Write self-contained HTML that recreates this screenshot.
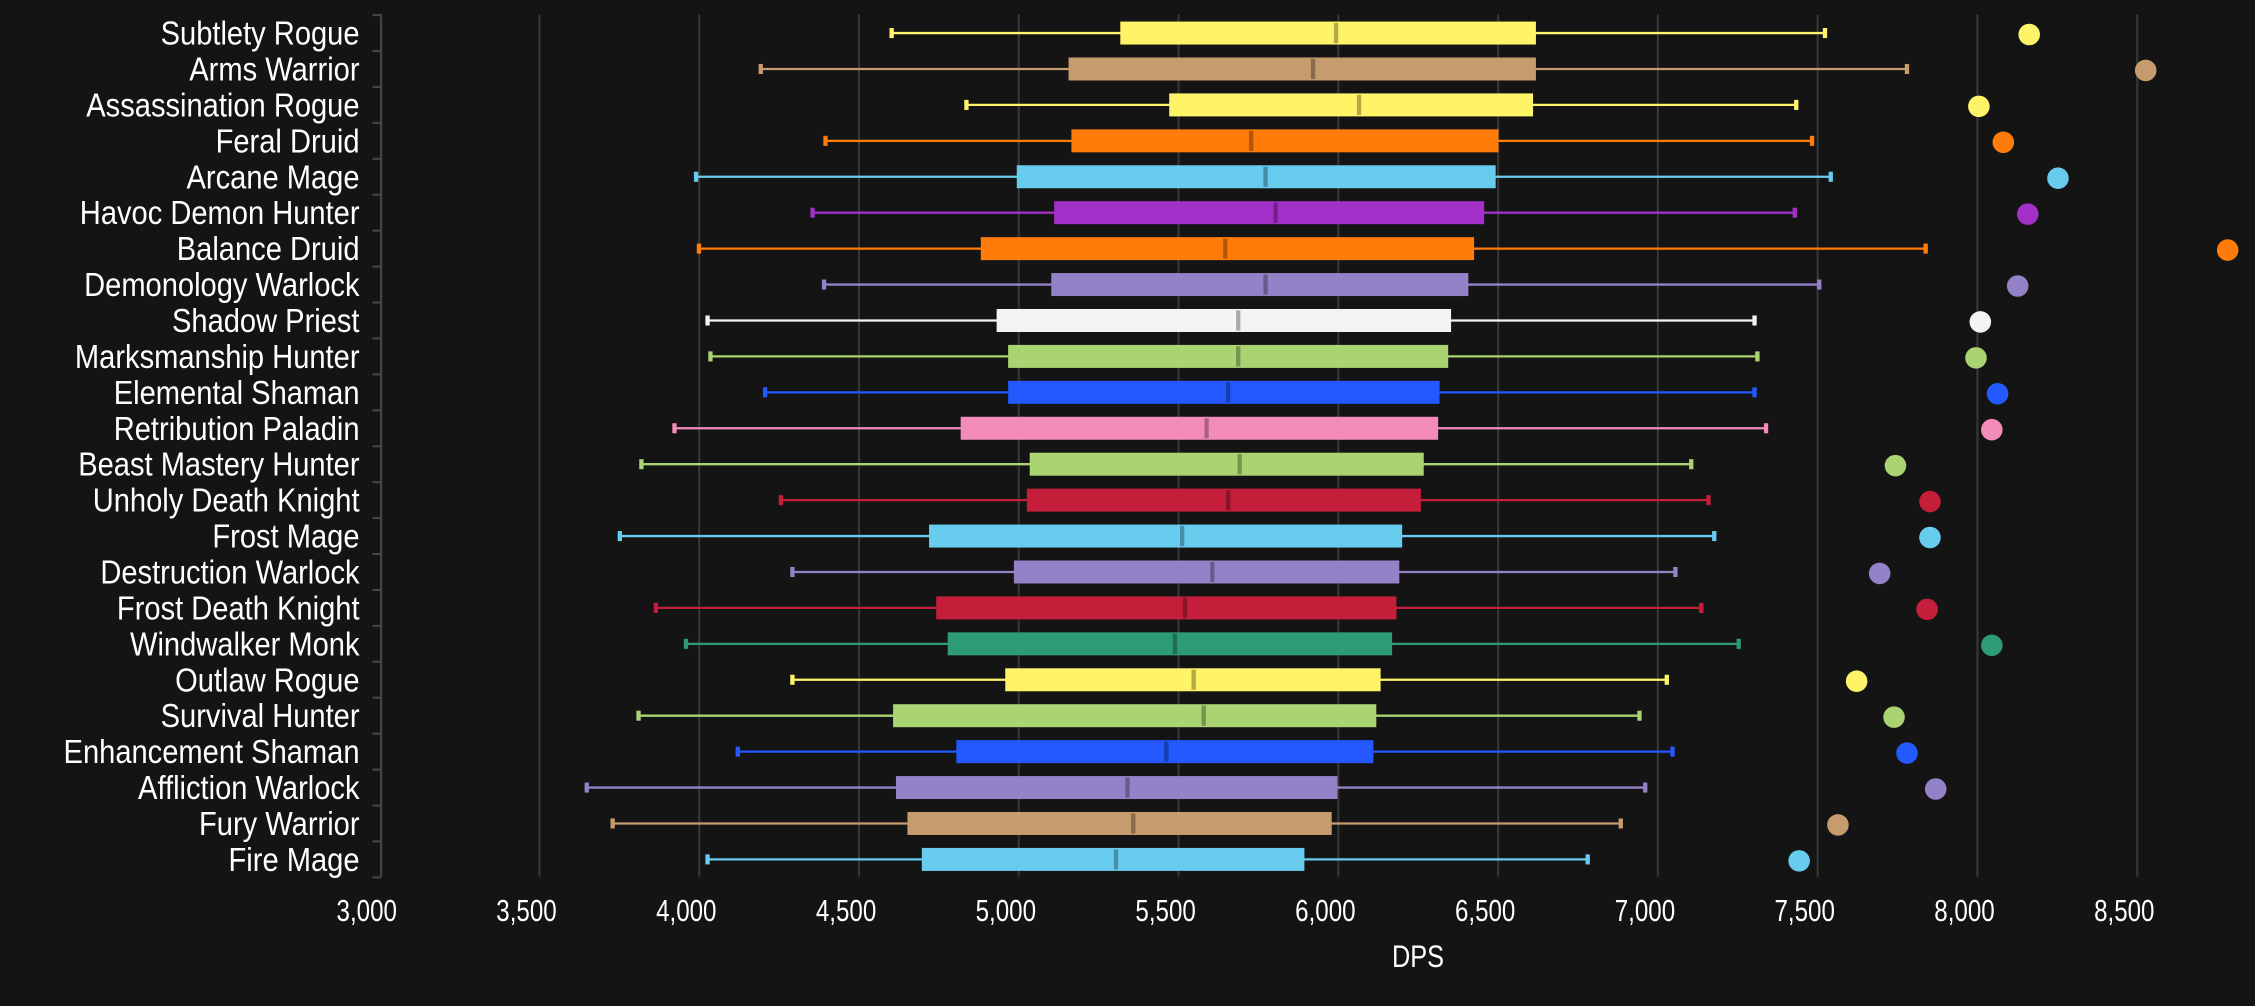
<!DOCTYPE html>
<html><head><meta charset="utf-8"><style>
html,body{margin:0;padding:0;background:#141414;}
svg{display:block;}
</style></head><body>
<svg id="c" width="2255" height="1006" viewBox="0 0 1568 700" preserveAspectRatio="none" xmlns="http://www.w3.org/2000/svg">
<rect width="1568" height="700" fill="#141414"/>
</svg>
<script>
const d=[
["Subtlety Rogue",620,779,929,1068,1269,1411,"#fff468"],
["Arms Warrior",529,743,913,1068,1326,1492,"#c69b6d"],
["Assassination Rogue",672,813,945,1066,1249,1376,"#fff468"],
["Feral Druid",574,745,870,1042,1260,1393,"#ff7c0a"],
["Arcane Mage",484,707,880,1040,1273,1431,"#68ccef"],
["Havoc Demon Hunter",565,733,887,1032,1248,1410,"#a330c9"],
["Balance Druid",486,682,852,1025,1339,1549,"#ff7c0a"],
["Demonology Warlock",573,731,880,1021,1265,1403,"#9482c9"],
["Shadow Priest",492,693,861,1009,1220,1377,"#f4f4f4"],
["Marksmanship Hunter",494,701,861,1007,1222,1374,"#aad372"],
["Elemental Shaman",532,701,854,1001,1220,1389,"#2359ff"],
["Retribution Paladin",469,668,839,1000,1228,1385,"#f48cba"],
["Beast Mastery Hunter",446,716,862,990,1176,1318,"#aad372"],
["Unholy Death Knight",543,714,854,988,1188,1342,"#c41e3a"],
["Frost Mage",431,646,822,975,1192,1342,"#68ccef"],
["Destruction Warlock",551,705,843,973,1165,1307,"#9482c9"],
["Frost Death Knight",456,651,824,971,1183,1340,"#c41e3a"],
["Windwalker Monk",477,659,817,968,1209,1385,"#2e9b78"],
["Outlaw Rogue",551,699,830,960,1159,1291,"#fff468"],
["Survival Hunter",444,621,837,957,1140,1317,"#aad372"],
["Enhancement Shaman",513,665,811,955,1163,1326,"#2359ff"],
["Affliction Warlock",408,623,784,930,1144,1346,"#9482c9"],
["Fury Warrior",426,631,788,926,1127,1278,"#c69b6d"],
["Fire Mage",492,641,776,907,1104,1251,"#68ccef"]];
let s='';
const F='font-family="Liberation Sans, DejaVu Sans, sans-serif"';
for(let k=1;k<=11;k++){const x=264+k*111.1;s+=`<line x1="${x}" y1="10" x2="${x}" y2="610" stroke="#363636" stroke-width="1.5"/>`;}
for(let k=0;k<=11;k++){const x=264+k*111.1;const v=(3000+k*500).toLocaleString('en-US');s+=`<text class="cd" x="${x-9}" y="641" fill="#fff" font-size="21" text-anchor="middle" ${F}>${v}</text>`;}
s+=`<text class="cd" x="986" y="673" fill="#fff" font-size="22" text-anchor="middle" ${F}>DPS</text>`;
s+=`<line x1="265" y1="10" x2="265" y2="610" stroke="#444" stroke-width="1.5"/>`;
for(let i=0;i<=24;i++){const y=10.5+i*25;s+=`<line x1="259" y1="${y}" x2="265" y2="${y}" stroke="#444" stroke-width="1.5"/>`;}
function dark(c){const n=parseInt(c.slice(1),16);const r=(n>>16)*0.7|0,g=((n>>8)&255)*0.7|0,b=(n&255)*0.7|0;return `rgb(${r},${g},${b})`;}
d.forEach((r,i)=>{const y=23+i*25;const [n,a,q1,m,q3,b,dot,c]=r;
s+=`<text class="lb" x="250" y="${y+8}" fill="#fff" font-size="23" text-anchor="end" ${F}>${n}</text>`;
s+=`<line x1="${a}" y1="${y}" x2="${b}" y2="${y}" stroke="${c}" stroke-width="1.6"/>`;
s+=`<line x1="${a}" y1="${y-3.5}" x2="${a}" y2="${y+3.5}" stroke="${c}" stroke-width="3"/>`;
s+=`<line x1="${b}" y1="${y-3.5}" x2="${b}" y2="${y+3.5}" stroke="${c}" stroke-width="3"/>`;
s+=`<rect x="${q1}" y="${y-8}" width="${q3-q1}" height="16" fill="${c}"/>`;
s+=`<line x1="${m}" y1="${y-7}" x2="${m}" y2="${y+7}" stroke="${dark(c)}" stroke-width="3"/>`;
s+=`<circle cx="${dot}" cy="${y+1}" r="7.5" fill="${c}"/>`;});
document.getElementById('c').insertAdjacentHTML('beforeend',s);
document.querySelectorAll('text.cd').forEach(t=>{const w=t.getComputedTextLength();t.setAttribute('textLength',(w*0.8).toFixed(1));t.setAttribute('lengthAdjust','spacingAndGlyphs');});
document.querySelectorAll('text.lb').forEach(t=>{const w=t.getComputedTextLength();t.setAttribute('textLength',(w*0.88).toFixed(1));t.setAttribute('lengthAdjust','spacingAndGlyphs');});
</script>
</body></html>
